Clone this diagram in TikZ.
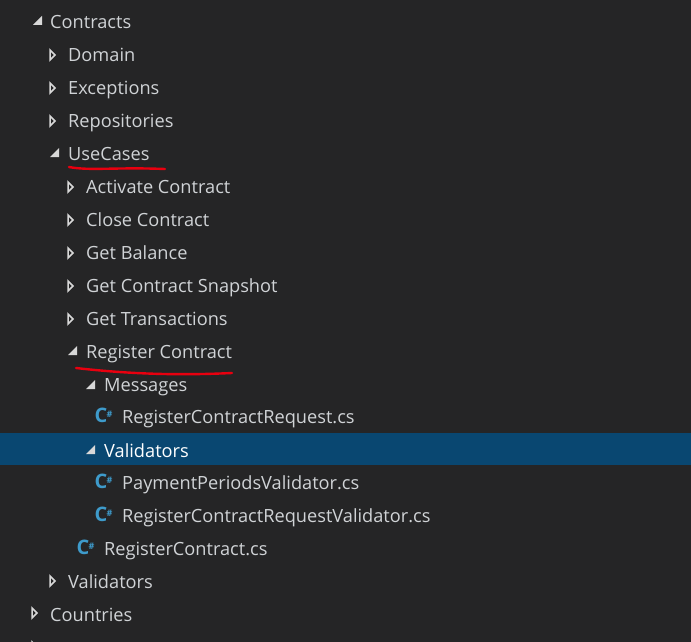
\documentclass[tikz,border=0pt]{standalone}
\usepackage{fontspec}
\setmainfont{Open Sans}
\definecolor{bgc}{HTML}{252526}
\definecolor{selc}{HTML}{094771}
\definecolor{txtc}{HTML}{D0D3D6}
\definecolor{tric}{HTML}{D8D8D8}
\definecolor{csc}{HTML}{3E9BCB}
\definecolor{redc}{HTML}{E8000F}
\tikzset{
  x=1pt,y=-1pt,
  rowtext/.style={anchor=base west,inner sep=0pt,text=txtc,font=\fontsize{18.2}{20}\selectfont},
  seltext/.style={rowtext,text=white},
  csmark/.style={anchor=center,inner sep=0pt,text=csc,font=\fontsize{20}{20}\bfseries\selectfont},
  hashmark/.style={anchor=center,inner sep=0pt,text=csc,font=\fontsize{9}{9}\bfseries\selectfont},
  redline/.style={draw=redc,line width=2.4pt,line cap=round},
}
\newcommand{\openarrow}[2]{\fill[tric] (#1+6,#2-5) -- (#1+6,#2+4) -- (#1-3,#2+4) -- cycle;}
\newcommand{\closedarrow}[2]{\draw[tric,line width=1.5pt,fill=bgc,line join=miter] (#1-2,#2-5) -- (#1+3,#2) -- (#1-2,#2+5) -- cycle;}
\newcommand{\csicon}[2]{\node[csmark] at (#1,#2) {C}; \node[hashmark] at (#1+8.5,#2-1) {\#};}
\begin{document}
\begin{tikzpicture}
\useasboundingbox (0,0) rectangle (691,642);
\fill[bgc] (0,0) rectangle (691,642);
\fill[selc] (0,433) rectangle (691,465);
\openarrow{36}{21}
\node[rowtext] (contracts) at (50,29) {Contracts};
\closedarrow{52}{55}
\node[rowtext] (domain) at (68,62) {Domain};
\closedarrow{52}{88}
\node[rowtext] (exceptions) at (68,95) {Exceptions};
\closedarrow{52}{121}
\node[rowtext] (repositories) at (68,128) {Repositories};
\openarrow{53}{153}
\node[rowtext] (usecases) at (68,160) {UseCases};
\closedarrow{70}{187}
\node[rowtext] (activate) at (86,193) {Activate Contract};
\closedarrow{70}{220}
\node[rowtext] (close) at (86,226) {Close Contract};
\closedarrow{70}{253}
\node[rowtext] (balance) at (86,259) {Get Balance};
\closedarrow{70}{286}
\node[rowtext] (snapshot) at (86,292) {Get Contract Snapshot};
\closedarrow{70}{319}
\node[rowtext] (transactions) at (86,325) {Get Transactions};
\openarrow{71}{351}
\node[rowtext] (register) at (86,358) {Register Contract};
\openarrow{89}{385}
\node[rowtext] (messages) at (104,391) {Messages};
\csicon{101}{415}
\node[rowtext] (req) at (122,423) {RegisterContractRequest.cs};
\openarrow{89}{450}
\node[seltext] (validators) at (104,457) {Validators};
\csicon{101}{481}
\node[rowtext] (payment) at (122,489) {PaymentPeriodsValidator.cs};
\csicon{101}{514}
\node[rowtext] (reqval) at (122,522) {RegisterContractRequestValidator.cs};
\csicon{83}{547}
\node[rowtext] (rc) at (104,555) {RegisterContract.cs};
\closedarrow{52}{581}
\node[rowtext] (validators2) at (68,588) {Validators};
\closedarrow{34}{613}
\node[rowtext] (countries) at (50,621) {Countries};
\begin{scope}
\clip (0,0) rectangle (691,642);
\closedarrow{34}{647}
\end{scope}
\draw[redline] (69,167) .. controls (90,171) and (115,167) .. (165,169);
\draw[redline] (76,368) .. controls (120,373) and (170,376) .. (232,373);
\end{tikzpicture}
\end{document}
